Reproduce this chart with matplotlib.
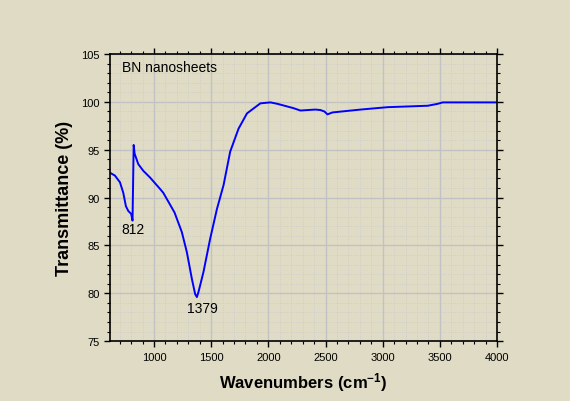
import matplotlib
matplotlib.use("Agg")
import matplotlib.pyplot as plt
from matplotlib.ticker import MultipleLocator

plt.rcParams['font.family'] = ['Liberation Sans', 'DejaVu Sans']
plt.rcParams['mathtext.default'] = 'regular'

# spectrum
wavenumber = [600, 614, 658, 702, 731, 754, 775, 800, 812, 822, 830, 862, 906, 965,
              1053, 1081, 1179, 1243, 1287, 1331, 1360, 1375, 1388, 1432, 1491, 1550,
              1608, 1666, 1739, 1813, 1930, 2018, 2079, 2219, 2280, 2411, 2455, 2490,
              2517, 2561, 2806, 3043, 3394, 3481, 3525, 3972, 4000]
transmittance = [92.9, 92.6, 92.3, 91.6, 90.5, 89.1, 88.6, 88.3, 87.6, 95.5, 94.6, 93.5,
                 92.8, 92.1, 90.9, 90.5, 88.45, 86.4, 84.3, 81.5, 79.9, 79.6, 80.1,
                 82.2, 85.7, 88.8, 91.3, 94.8, 97.2, 98.8, 99.85, 99.95, 99.8, 99.35,
                 99.1, 99.2, 99.15, 99.0, 98.7, 98.9, 99.2, 99.45, 99.6, 99.8, 99.95,
                 99.95, 99.95]

peak_labels = ["812", "1379"]
peak_x = [815, 1420]
peak_y = [86.7, 78.45]

bg = '#DFDBC4'
fig = plt.figure(figsize=(5.7, 4.02), dpi=100, facecolor=bg)
ax = fig.add_axes([0.193, 0.149, 0.679, 0.714], facecolor=bg)

ax.plot(wavenumber, transmittance, color='#0000FF', lw=1.4)

ax.set_xlim(615, 4000)
ax.set_ylim(75, 105)
ax.xaxis.set_major_locator(MultipleLocator(500))
ax.xaxis.set_minor_locator(MultipleLocator(100))
ax.yaxis.set_major_locator(MultipleLocator(5))
ax.yaxis.set_minor_locator(MultipleLocator(1))
ax.grid(which='major', color='#C2C2C2', lw=1.0)
ax.grid(which='minor', color='#CBCBCB', lw=0.6, ls=':')
ax.set_axisbelow(True)

ax.tick_params(which='both', direction='out', top=True, right=True, labelsize=8)
ax.tick_params(which='major', length=4, width=1)
ax.tick_params(which='minor', length=2, width=0.8)
for s in ax.spines.values():
    s.set_linewidth(1.2)

ax.set_xlabel('Wavenumbers (cm$^{-1}$)', fontsize=12, fontweight='bold', labelpad=6)
ax.set_ylabel('Transmittance (%)', fontsize=13, fontweight='bold', labelpad=6)

ax.text(0.03, 0.956, 'BN nanosheets', transform=ax.transAxes, fontsize=10, va='center')
for lab, x, y in zip(peak_labels, peak_x, peak_y):
    ax.text(x, y, lab, fontsize=10, ha='center', va='center')

fig.savefig('out.png', dpi=100, facecolor=bg)
